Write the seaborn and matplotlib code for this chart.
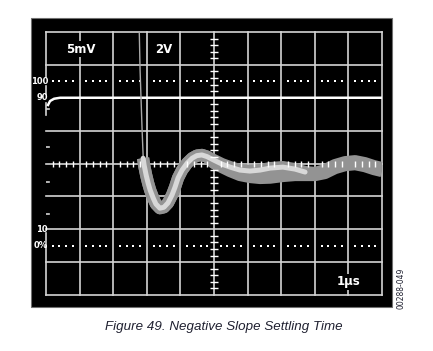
import numpy as np
import pandas as pd
import matplotlib
matplotlib.use("Agg")
import matplotlib.pyplot as plt
import seaborn as sns
from matplotlib.patches import Rectangle

# ---------- data (x in divisions, y in divisions) ----------
settle_x = [2.89, 2.92, 2.98, 3.04, 3.10, 3.19, 3.27, 3.39, 3.51, 3.63, 3.75,
            3.84, 3.93, 4.05, 4.20, 4.35, 4.49, 4.64, 4.79, 5.00, 5.24, 5.48,
            5.77, 6.07, 6.37, 6.67, 7.05, 7.41, 7.71, 8.01, 8.30, 8.60, 8.90,
            9.20, 9.49, 9.76, 10.0]
settle_hi = [4.16, 3.95, 3.65, 3.40, 3.19, 2.95, 2.77, 2.64, 2.67, 2.80, 3.04,
             3.28, 3.56, 3.80, 4.01, 4.16, 4.24, 4.26, 4.21, 4.10, 3.98, 3.89,
             3.80, 3.77, 3.80, 3.86, 3.89, 3.83, 3.74, 3.71, 3.80, 3.95, 4.04,
             4.07, 4.01, 3.92, 3.86]
settle_lo = [4.16, 3.95, 3.65, 3.40, 3.19, 2.95, 2.77, 2.64, 2.67, 2.80, 3.04,
             3.28, 3.56, 3.80, 4.01, 4.16, 4.24, 4.26, 4.21, 4.01, 3.89, 3.77,
             3.65, 3.59, 3.56, 3.57, 3.62, 3.65, 3.65, 3.65, 3.71, 3.86, 3.95,
             3.98, 3.92, 3.83, 3.77]
core_end = 7.75

input_x = [2.77, 2.80, 2.83, 2.86, 2.89, 2.93]
input_y = [8.3, 6.84, 5.93, 5.02, 4.26, 3.90]

top_x = [0.06, 0.12, 0.24, 0.42, 10.0]
top_y = [5.78, 5.90, 5.97, 6.00, 6.00]

level_labels = ["100", "90", "10", "0%"]
level_y = [6.5, 6.0, 2.0, 1.5]
dotted_y = [6.5, 1.5]

df_hi = pd.DataFrame({"x": settle_x, "y": settle_hi})
df_lo = pd.DataFrame({"x": settle_x, "y": settle_lo})
df_core = df_hi[df_hi["x"] <= core_end]

# ---------- figure ----------
fig = plt.figure(figsize=(4.33, 3.51), dpi=100)
fig.patches.append(Rectangle((31 / 433, 1 - 307 / 351), 361 / 433, 289 / 351,
                             transform=fig.transFigure, facecolor="black",
                             edgecolor="#707070", lw=0.8, zorder=-1))
ax = fig.add_axes([46 / 433, 1 - 295 / 351, 336 / 433, 263 / 351])
ax.set_facecolor("black")
ax.set_xlim(0, 10)
ax.set_ylim(0, 8)
for s in ax.spines.values():
    s.set_visible(False)
ax.set_xticks([])
ax.set_yticks([])

gc = "#d4d4d4"
glw = 1.2
for gx in range(1, 11):
    ax.axvline(gx, color=gc, lw=glw, zorder=1, clip_on=False)
for gy in range(0, 9):
    if gy == 6:
        continue
    ax.axhline(gy, color=gc, lw=glw, zorder=1, clip_on=False)

# broken left border
for y0, y1 in [(6.62, 8.0), (6.1, 6.35), (5.47, 5.84), (1.45, 1.9), (0.0, 1.5)]:
    ax.plot([0, 0], [y0, y1], color=gc, lw=glw, zorder=1, clip_on=False)
for ty in [5.65, 4.5, 3.45, 2.45]:
    ax.plot([0, 0.1], [ty, ty], color=gc, lw=glw, zorder=1)

# center graticule ticks
minor = np.arange(0.2, 10, 0.2)
minor = minor[np.abs(minor - np.round(minor)) > 0.05]
ax.plot(minor, np.full_like(minor, 4.0), ls="none", marker="|", ms=4,
        mew=1.0, color="white", zorder=4)
minor_y = minor[minor < 8]
ax.plot(np.full_like(minor_y, 5.0), minor_y, ls="none", marker="_", ms=5.5,
        mew=1.0, color="white", zorder=4)

# dotted 100% and 0% levels
for dy in dotted_y:
    ax.plot(minor, np.full_like(minor, dy), ls="none", marker="s", ms=1.6,
            mew=0, color="white", zorder=2)

# traces
sns.lineplot(x=top_x, y=top_y, ax=ax, color="white", lw=1.8, sort=False,
             estimator=None, zorder=3)
sns.lineplot(x=input_x, y=input_y, ax=ax, color="#a8a8a8", lw=1.0, sort=False,
             estimator=None, zorder=3)
sns.lineplot(data=df_lo, x="x", y="y", ax=ax, color="#939393", lw=8.8,
             sort=False, estimator=None, zorder=3, solid_capstyle="butt",
             solid_joinstyle="round")
sns.lineplot(data=df_hi, x="x", y="y", ax=ax, color="#939393", lw=8.8,
             sort=False, estimator=None, zorder=3, solid_capstyle="butt",
             solid_joinstyle="round")
sns.lineplot(data=df_core, x="x", y="y", ax=ax, color="#d8d8d8", lw=3.6,
             sort=False, estimator=None, zorder=3, solid_capstyle="round",
             solid_joinstyle="round")

# labels
box = dict(facecolor="black", edgecolor="none", pad=1.0)
ax.text(1.04, 7.48, "5mV", color="white", fontsize=8.5, fontweight="bold",
        ha="center", va="center", bbox=box, zorder=5)
ax.text(3.5, 7.48, "2V", color="white", fontsize=8.5, fontweight="bold",
        ha="center", va="center", zorder=5)
ax.text(9.0, 0.4, "1\u00b5s", color="white", fontsize=8.5, fontweight="bold",
        ha="center", va="center", bbox=box, zorder=5)
for lab, ly in zip(level_labels, level_y):
    ax.text(0.06, ly, lab, color="white", fontsize=6, fontweight="bold",
            ha="right", va="center", zorder=5)

fig.text(224 / 433, 1 - 327 / 351, "Figure 49. Negative Slope Settling Time",
         ha="center", va="center", fontsize=9.6, style="italic",
         family="Liberation Sans", color="#1f2030")
fig.text(401 / 433, 1 - 288 / 351, "00288-049", rotation=90, ha="center",
         va="center", fontsize=5.5, color="#1f2030")

fig.savefig("out.png", dpi=100, facecolor="white")
